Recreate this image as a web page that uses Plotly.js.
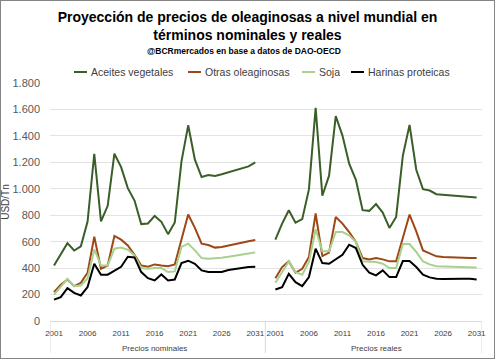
<!DOCTYPE html>
<html>
<head>
<meta charset="utf-8">
<script src="https://cdn.plot.ly/plotly-3.0.1.min.js"></script>
<style>
  html, body { margin:0; padding:0; background:#fff; }
  #wrap { position:relative; width:495px; height:359px; }
  #chart { width:495px; height:359px; }
  #frame { position:absolute; left:0; top:0; width:495px; height:359px; box-sizing:border-box; border:1px solid #858585; pointer-events:none; }
</style>
</head>
<body>
<div id="wrap"><div id="chart"></div><div id="frame"></div></div>
<script>
// ---- Data ----
const years = [2001,2002,2003,2004,2005,2006,2007,2008,2009,2010,2011,2012,2013,2014,2015,2016,2017,2018,2019,2020,2021,2022,2023,2024,2025,2026,2027,2028,2029,2030,2031];
const groups = ["Precios nominales", "Precios reales"];
const seriesNames = ["Aceites vegetales", "Otras oleaginosas", "Soja", "Harinas proteicas"];
const tickYears = [2001, 2006, 2011, 2016, 2021, 2026, 2031];
const titleLines = ["Proyección de precios de oleaginosas a nivel mundial en", "términos nominales y reales"];
const subtitle = "@BCRmercados en base a datos de DAO-OECD";

// Precios nominales (USD/Tn)
const aceitesNom = [419,505,589,533,565,752,1265,754,871,1265,1164,1005,911,733,738,795,750,657,745,1207,1480,1220,1089,1104,1097,1110,1124,1142,1157,1169,1200];
const otrasNom   = [218,274,314,264,289,365,638,395,420,643,615,572,501,420,410,428,420,415,428,628,805,704,585,575,555,560,572,582,593,603,613];
const sojaNom    = [200,256,319,264,269,324,542,420,420,547,555,539,496,400,395,400,400,370,375,560,585,534,476,471,474,479,486,496,504,511,519];
const harinasNom = [162,180,248,213,193,256,433,350,350,380,410,486,481,370,324,307,352,307,314,438,456,433,383,370,370,370,385,395,400,408,410];

// Precios reales (USD/Tn)
const aceitesReal = [615,737,838,744,770,995,1613,947,1099,1550,1402,1190,1068,838,833,884,820,704,787,1250,1483,1144,997,987,959,954,952,947,939,934,934];
const otrasReal   = [324,408,451,365,395,484,813,491,517,787,737,673,598,476,466,476,466,451,451,636,805,678,534,512,489,484,481,479,479,476,476];
const sojaReal    = [289,375,451,370,350,446,694,527,527,673,673,648,598,451,446,446,433,400,400,582,582,522,451,428,415,413,410,408,408,408,405];
const harinasReal = [238,256,357,294,264,332,547,438,433,466,501,577,552,425,365,345,383,332,332,453,453,408,350,330,319,317,319,319,319,319,314];

// ---- Styling / layout helpers ----
const colors = ["#3a5e27", "#9e4715", "#a9d18e", "#000000"];
const GROUP_OFFSET = 33;            // category slot where the second group starts
const W = 495, H = 359;
const M = {l:50, r:13, t:83, b:38};
const XR = [-0.6, 63.8];
const plotW = W - M.l - M.r, plotH = H - M.t - M.b;
const px2paperX = p => (p - M.l) / plotW;
const px2paperY = p => (H - M.b - p) / plotH;

const pos = (g) => years.map(y => (y - years[0]) + g * GROUP_OFFSET);
const dataNom = [aceitesNom, otrasNom, sojaNom, harinasNom];
const dataReal = [aceitesReal, otrasReal, sojaReal, harinasReal];

const traces = [];
[dataNom, dataReal].forEach((set, g) => {
  set.forEach((vals, k) => {
    traces.push({
      type: 'scatter', mode: 'lines',
      x: pos(g), y: vals,
      name: seriesNames[k], legendgroup: seriesNames[k],
      showlegend: false,
      line: {color: colors[k], width: 2},
      hoverinfo: 'skip'
    });
  });
});

const tickvals = [], ticktext = [];
[0, 1].forEach(g => tickYears.forEach(y => { tickvals.push((y - years[0]) + g * GROUP_OFFSET); ticktext.push(String(y)); }));

const sepColor = "#d9d9d9";
const shapes = [];
const sepX = [XR[0], (years.length - 1 + GROUP_OFFSET) / 2, XR[1]];
sepX.forEach(x => shapes.push({type:'line', xref:'x', yref:'paper', x0:x, x1:x, y0:0, y1:px2paperY(353), line:{color:sepColor, width:1}}));

const annotations = [];
// subtitle
annotations.push({text: subtitle, xref:'paper', yref:'paper',
  x: px2paperX(244), y: px2paperY(50.5), xanchor:'center', yanchor:'middle', showarrow:false,
  font:{family:'Liberation Sans, Arial, sans-serif', size:8.5, weight:'bold', color:'#000'}});

groups.forEach((gname, g) => {
  annotations.push({text: gname, xref:'x', yref:'paper', x: (years.length - 1) / 2 + g * GROUP_OFFSET, y: px2paperY(348.5),
    xanchor:'center', yanchor:'middle', showarrow:false, font:{family:'Liberation Sans, Arial, sans-serif', size:8, color:'#404040'}});
});

// legend (Excel-like short line samples)
const legLine = [[74,87],[188,201],[302,315],[351,364]];
const legText = [89, 203, 317, 366];
const legY = 72;
seriesNames.forEach((n, k) => {
  shapes.push({type:'line', xref:'paper', yref:'paper', x0:px2paperX(legLine[k][0]), x1:px2paperX(legLine[k][1]),
    y0:px2paperY(legY), y1:px2paperY(legY), line:{color:colors[k], width:2}});
  annotations.push({text:n, xref:'paper', yref:'paper', x:px2paperX(legText[k]), y:px2paperY(legY),
    xanchor:'left', yanchor:'middle', showarrow:false, font:{family:'Liberation Sans, Arial, sans-serif', size:10.5, color:'#404040'}});
});

const layout = {
  width: W, height: H,
  margin: M,
  paper_bgcolor: '#ffffff', plot_bgcolor: '#ffffff',
  showlegend: false,
  title: {
    text: titleLines.join('<br>'),
    x: 0.5, xanchor: 'center', xref: 'container',
    y: 1 - 22/H, yanchor: 'middle', yref: 'container',
    font: {family: 'Liberation Sans, Arial, sans-serif', size: 14, weight: 'bold', color: '#000'}
  },
  xaxis: {
    range: XR, tickmode: 'array', tickvals: tickvals, ticktext: ticktext, tickangle: 0,
    showgrid: false, zeroline: false, showline: true, linecolor: sepColor, linewidth: 1,
    ticks: '', ticklabelstandoff: 4,
    tickfont: {family: 'Liberation Sans, Arial, sans-serif', size: 8, color: '#404040'},
    fixedrange: true
  },
  yaxis: {
    range: [0, 1800], tickvals: [0,200,400,600,800,1000,1200,1400,1600,1800],
    ticktext: ['0','200','400','600','800','1.000','1.200','1.400','1.600','1.800'],
    showgrid: true, gridcolor: '#e3e3e3', gridwidth: 1, zeroline: false, showline: false,
    ticks: '', ticklabelstandoff: 9,
    tickfont: {family: 'Liberation Sans, Arial, sans-serif', size: 11, color: '#595959'},
    title: {text: 'USD/Tn', standoff: 0, font: {family: 'Liberation Sans, Arial, sans-serif', size: 10, color: '#404040'}},
    fixedrange: true
  },
  shapes: shapes,
  annotations: annotations
};

Plotly.newPlot('chart', traces, layout, {staticPlot: true, displayModeBar: false});
</script>
</body>
</html>
